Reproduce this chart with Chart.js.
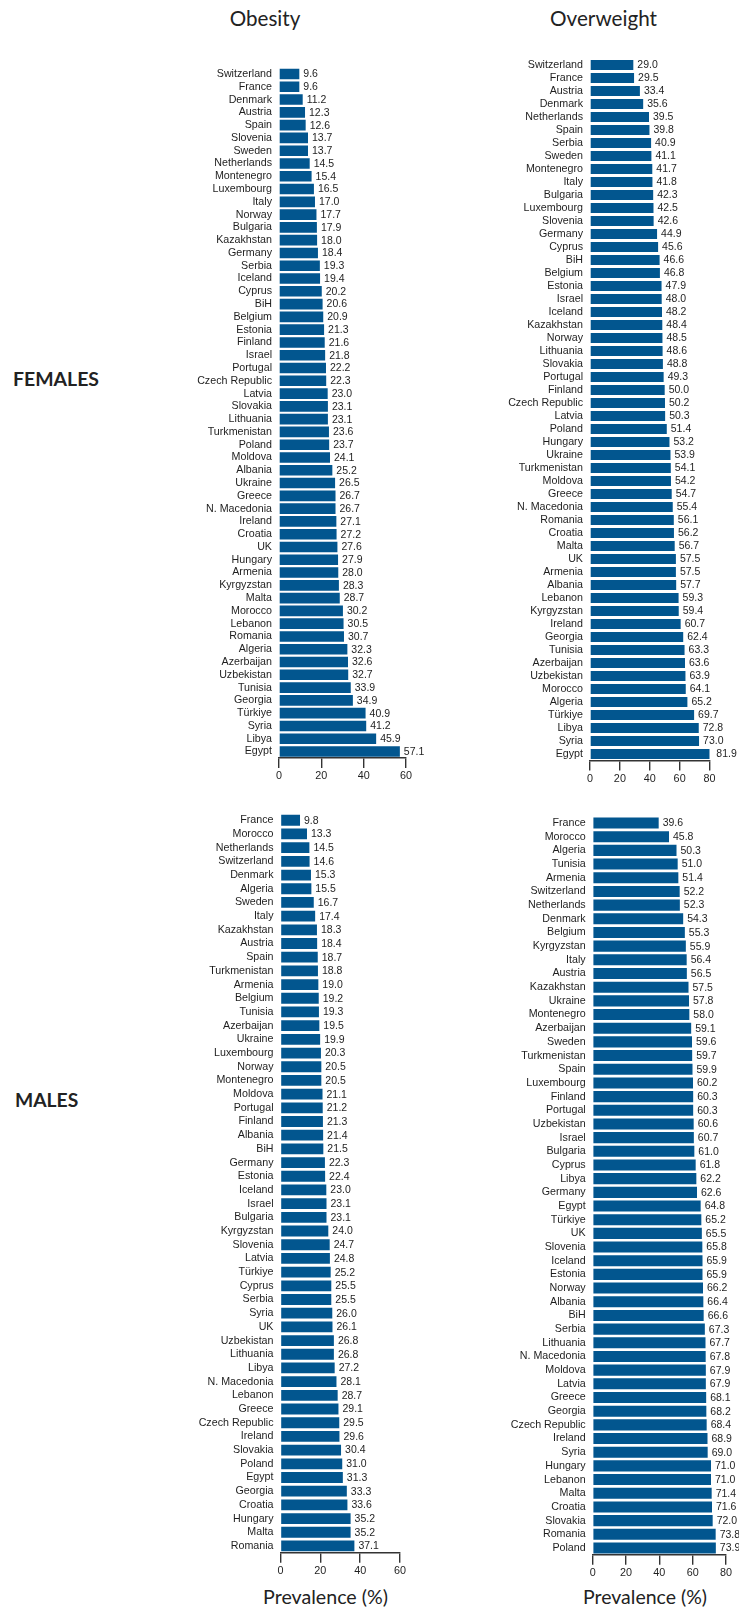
<!DOCTYPE html>
<html>
<head>
<meta charset="utf-8">
<script src="https://cdn.jsdelivr.net/npm/chart.js@4.4.1/dist/chart.umd.min.js"></script>
<style>
  html, body { margin: 0; padding: 0; background: #ffffff; }
  #page { position: relative; width: 739px; height: 1609px; overflow: hidden; background: #ffffff; }
  canvas { position: absolute; }
  .txt { position: absolute; white-space: nowrap; line-height: 1; color: #222222; font-family: Lato, "Open Sans", sans-serif; }
  .c { transform: translate(-50%, -50%); }
  .l { transform: translate(0, -50%); }
</style>
</head>
<body>
<div id="page">
  <div class="txt c" id="tObesity" style="left:265px; top:18px;">Obesity</div>
  <div class="txt c" id="tOverweight" style="left:603.5px; top:18px;">Overweight</div>
  <div class="txt l" id="tFemales" style="left:13px; top:379px; font-weight:bold;">FEMALES</div>
  <div class="txt l" id="tMales" style="left:15px; top:1100px; font-weight:bold;">MALES</div>
  <div class="txt c" id="tPrev1" style="left:325.5px; top:1597px;">Prevalence (%)</div>
  <div class="txt c" id="tPrev2" style="left:645px; top:1597px;">Prevalence (%)</div>
  <canvas id="cFemOb" width="300" height="760" style="left:170px; top:40px;"></canvas>
  <canvas id="cFemOw" width="269" height="760" style="left:470px; top:40px;"></canvas>
  <canvas id="cMaleOb" width="300" height="809" style="left:170px; top:800px;"></canvas>
  <canvas id="cMaleOw" width="269" height="809" style="left:470px; top:800px;"></canvas>
</div>
<script>
// ---------------- DATA ----------------
const femaleObesityCountries = ["Switzerland","France","Denmark","Austria","Spain","Slovenia","Sweden","Netherlands","Montenegro","Luxembourg","Italy","Norway","Bulgaria","Kazakhstan","Germany","Serbia","Iceland","Cyprus","BiH","Belgium","Estonia","Finland","Israel","Portugal","Czech Republic","Latvia","Slovakia","Lithuania","Turkmenistan","Poland","Moldova","Albania","Ukraine","Greece","N. Macedonia","Ireland","Croatia","UK","Hungary","Armenia","Kyrgyzstan","Malta","Morocco","Lebanon","Romania","Algeria","Azerbaijan","Uzbekistan","Tunisia","Georgia","Türkiye","Syria","Libya","Egypt"];
const femaleObesityValues = [9.6,9.6,11.2,12.3,12.6,13.7,13.7,14.5,15.4,16.5,17.0,17.7,17.9,18.0,18.4,19.3,19.4,20.2,20.6,20.9,21.3,21.6,21.8,22.2,22.3,23.0,23.1,23.1,23.6,23.7,24.1,25.2,26.5,26.7,26.7,27.1,27.2,27.6,27.9,28.0,28.3,28.7,30.2,30.5,30.7,32.3,32.6,32.7,33.9,34.9,40.9,41.2,45.9,57.1];

const femaleOverweightCountries = ["Switzerland","France","Austria","Denmark","Netherlands","Spain","Serbia","Sweden","Montenegro","Italy","Bulgaria","Luxembourg","Slovenia","Germany","Cyprus","BiH","Belgium","Estonia","Israel","Iceland","Kazakhstan","Norway","Lithuania","Slovakia","Portugal","Finland","Czech Republic","Latvia","Poland","Hungary","Ukraine","Turkmenistan","Moldova","Greece","N. Macedonia","Romania","Croatia","Malta","UK","Armenia","Albania","Lebanon","Kyrgyzstan","Ireland","Georgia","Tunisia","Azerbaijan","Uzbekistan","Morocco","Algeria","Türkiye","Libya","Syria","Egypt"];
const femaleOverweightValues = [29.0,29.5,33.4,35.6,39.5,39.8,40.9,41.1,41.7,41.8,42.3,42.5,42.6,44.9,45.6,46.6,46.8,47.9,48.0,48.2,48.4,48.5,48.6,48.8,49.3,50.0,50.2,50.3,51.4,53.2,53.9,54.1,54.2,54.7,55.4,56.1,56.2,56.7,57.5,57.5,57.7,59.3,59.4,60.7,62.4,63.3,63.6,63.9,64.1,65.2,69.7,72.8,73.0,81.9];

const maleObesityCountries = ["France","Morocco","Netherlands","Switzerland","Denmark","Algeria","Sweden","Italy","Kazakhstan","Austria","Spain","Turkmenistan","Armenia","Belgium","Tunisia","Azerbaijan","Ukraine","Luxembourg","Norway","Montenegro","Moldova","Portugal","Finland","Albania","BiH","Germany","Estonia","Iceland","Israel","Bulgaria","Kyrgyzstan","Slovenia","Latvia","Türkiye","Cyprus","Serbia","Syria","UK","Uzbekistan","Lithuania","Libya","N. Macedonia","Lebanon","Greece","Czech Republic","Ireland","Slovakia","Poland","Egypt","Georgia","Croatia","Hungary","Malta","Romania"];
const maleObesityValues = [9.8,13.3,14.5,14.6,15.3,15.5,16.7,17.4,18.3,18.4,18.7,18.8,19.0,19.2,19.3,19.5,19.9,20.3,20.5,20.5,21.1,21.2,21.3,21.4,21.5,22.3,22.4,23.0,23.1,23.1,24.0,24.7,24.8,25.2,25.5,25.5,26.0,26.1,26.8,26.8,27.2,28.1,28.7,29.1,29.5,29.6,30.4,31.0,31.3,33.3,33.6,35.2,35.2,37.1];

const maleOverweightCountries = ["France","Morocco","Algeria","Tunisia","Armenia","Switzerland","Netherlands","Denmark","Belgium","Kyrgyzstan","Italy","Austria","Kazakhstan","Ukraine","Montenegro","Azerbaijan","Sweden","Turkmenistan","Spain","Luxembourg","Finland","Portugal","Uzbekistan","Israel","Bulgaria","Cyprus","Libya","Germany","Egypt","Türkiye","UK","Slovenia","Iceland","Estonia","Norway","Albania","BiH","Serbia","Lithuania","N. Macedonia","Moldova","Latvia","Greece","Georgia","Czech Republic","Ireland","Syria","Hungary","Lebanon","Malta","Croatia","Slovakia","Romania","Poland"];
const maleOverweightValues = [39.6,45.8,50.3,51.0,51.4,52.2,52.3,54.3,55.3,55.9,56.4,56.5,57.5,57.8,58.0,59.1,59.6,59.7,59.9,60.2,60.3,60.3,60.6,60.7,61.0,61.8,62.2,62.6,64.8,65.2,65.5,65.8,65.9,65.9,66.2,66.4,66.6,67.3,67.7,67.8,67.9,67.9,68.1,68.2,68.4,68.9,69.0,71.0,71.0,71.4,71.6,72.0,73.8,73.9];

const obesityTicks = [0, 20, 40, 60];
const overweightTicks = [0, 20, 40, 60, 80];

// ---------------- STYLE ----------------
const BAR_COLOR = '#02568f';
const TEXT_COLOR = '#1e1e1e';
const AXIS_COLOR = '#333333';
const LABEL_FONT = 'Liberation Sans';

// fit header texts to measured widths
(function fitTexts() {
  const ctx = document.createElement('canvas').getContext('2d');
  const specs = [
    ['tObesity', 70.5, 'normal'], ['tOverweight', 107, 'normal'],
    ['tFemales', 86, 'bold'], ['tMales', 63.3, 'bold'],
    ['tPrev1', 125, 'normal'], ['tPrev2', 124, 'normal']
  ];
  specs.forEach(([id, w, weight]) => {
    const el = document.getElementById(id);
    ctx.font = weight + ' 100px Lato';
    const m = ctx.measureText(el.textContent).width;
    el.style.fontSize = (100 * w / m).toFixed(2) + 'px';
  });
})();

const valueLabels = {
  id: 'valueLabels',
  afterDatasetsDraw(chart) {
    const ctx = chart.ctx;
    const meta = chart.getDatasetMeta(0);
    const data = chart.data.datasets[0].data;
    ctx.save();
    ctx.font = '10.5px "' + LABEL_FONT + '"';
    ctx.fillStyle = TEXT_COLOR;
    ctx.textAlign = 'left';
    ctx.textBaseline = 'middle';
    meta.data.forEach((bar, i) => {
      ctx.fillText(Number(data[i]).toFixed(1), bar.x + 4, bar.y + 0.5);
    });
    ctx.restore();
  }
};

function makeChart(id, labels, values, ticks, g) {
  const maxV = ticks[ticks.length - 1];
  return new Chart(document.getElementById(id), {
    type: 'bar',
    data: {
      labels: labels,
      datasets: [{
        data: values,
        backgroundColor: BAR_COLOR,
        borderWidth: 0,
        barPercentage: g.barPct,
        categoryPercentage: 1.0
      }]
    },
    options: {
      indexAxis: 'y',
      responsive: false,
      animation: false,
      devicePixelRatio: 1,
      layout: { padding: { top: g.padTop, right: g.padRight, bottom: 0, left: 0 } },
      plugins: { legend: { display: false }, tooltip: { enabled: false } },
      scales: {
        x: {
          min: 0, max: maxV,
          afterBuildTicks: (s) => { s.ticks = ticks.map(v => ({ value: v })); },
          ticks: { font: { family: LABEL_FONT, size: 10.8 }, color: TEXT_COLOR, padding: 2, maxRotation: 0 },
          grid: { drawOnChartArea: false, drawTicks: true, tickLength: 10, color: AXIS_COLOR, lineWidth: 1.4 },
          border: { display: true, color: AXIS_COLOR, width: 1.4 },
          afterFit: (s) => { s.height = g.xHeight; }
        },
        y: {
          ticks: { font: { family: LABEL_FONT, size: 10.7 }, color: TEXT_COLOR, padding: 7, autoSkip: false },
          grid: { display: false, drawTicks: false },
          border: { display: false },
          afterFit: (s) => { s.width = g.yWidth; }
        }
      }
    },
    plugins: [valueLabels]
  });
}

makeChart('cFemOb', femaleObesityCountries, femaleObesityValues, obesityTicks,
  { yWidth: 109, padTop: 27.6, padRight: 64, xHeight: 42.1, barPct: 0.83 });
makeChart('cFemOw', femaleOverweightCountries, femaleOverweightValues, overweightTicks,
  { yWidth: 120, padTop: 18.5, padRight: 29.5, xHeight: 39.5, barPct: 0.78 });
makeChart('cMaleOb', maleObesityCountries, maleObesityValues, obesityTicks,
  { yWidth: 110.5, padTop: 13.2, padRight: 70, xHeight: 56.2, barPct: 0.79 });
makeChart('cMaleOw', maleOverweightCountries, maleOverweightValues, overweightTicks,
  { yWidth: 122.7, padTop: 16.2, padRight: 13, xHeight: 54.2, barPct: 0.81 });
</script>
</body>
</html>
